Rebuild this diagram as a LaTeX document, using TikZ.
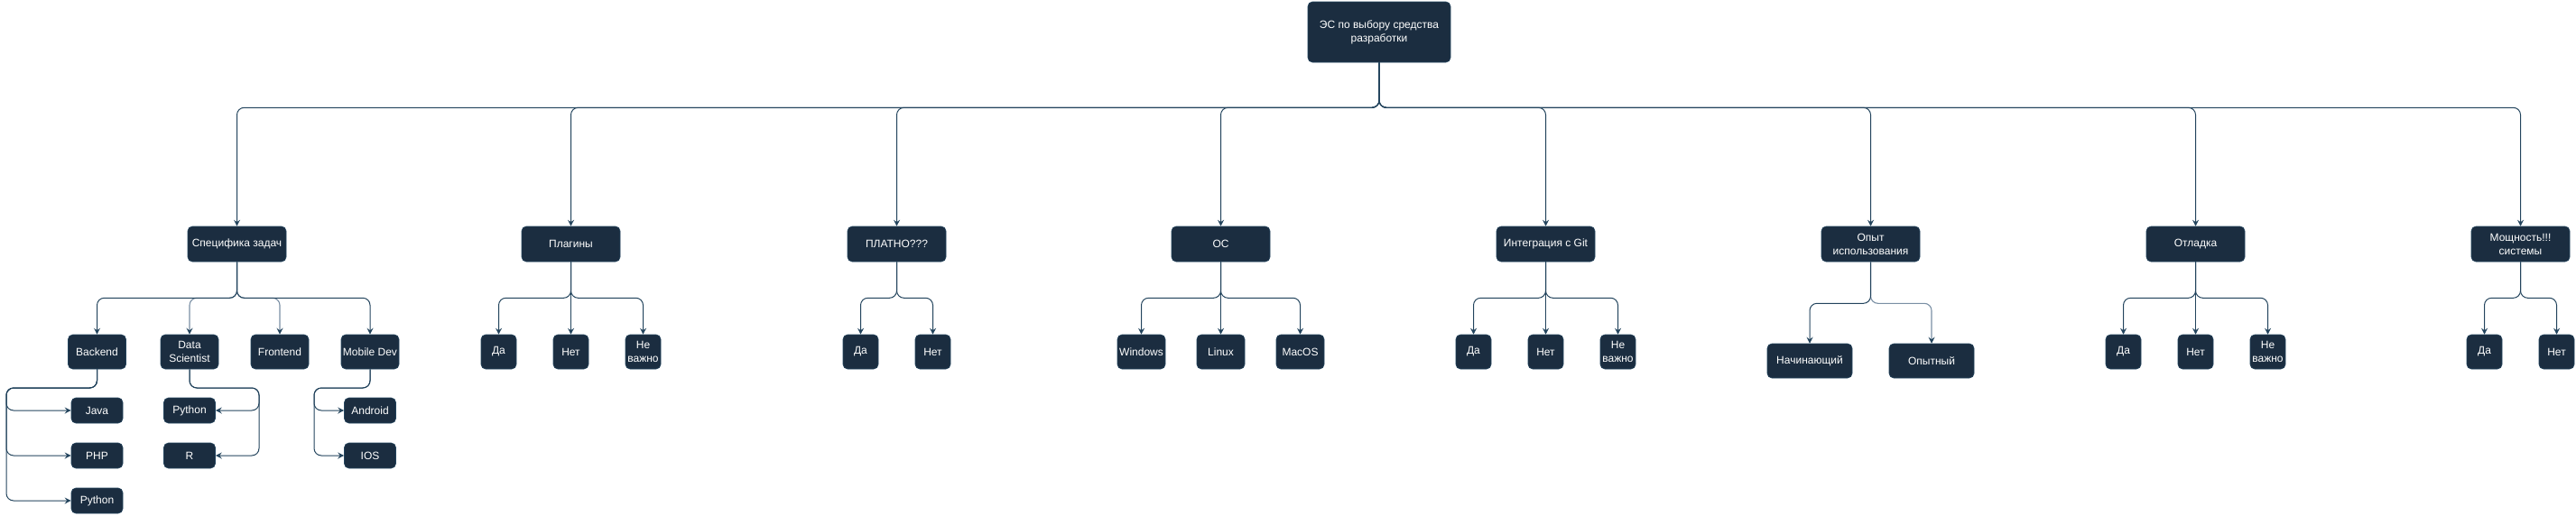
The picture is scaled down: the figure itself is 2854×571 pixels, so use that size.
\documentclass[tikz,border=0pt]{standalone}
\usepackage{fontspec}
\setmainfont{Liberation Sans}
\usetikzlibrary{arrows.meta}
\definecolor{boxfill}{HTML}{1B2D40}
\definecolor{edgecol}{HTML}{23445D}
\definecolor{edgelight}{HTML}{7A8FA4}
\tikzset{
  box/.style={draw=edgecol, fill=boxfill, rounded corners=5pt, text=white, align=center,
    inner sep=0pt, font=\fontsize{12}{15}\selectfont, line width=0.6pt},
  rootbox/.style={box, minimum width=158pt, minimum height=67pt},
  lvla/.style={box, minimum width=109pt, minimum height=39pt},
  lvlb/.style={box, minimum width=64pt, minimum height=38pt},
  small/.style={box, minimum width=39pt, minimum height=38pt},
  osbox/.style={box, minimum width=53pt, minimum height=38pt},
  expbox/.style={box, minimum width=94pt, minimum height=38pt},
  leaf/.style={box, minimum width=57pt, minimum height=28pt},
  conn/.style={draw=edgecol, line width=1pt, rounded corners=8pt, -{Stealth[length=7pt,width=7pt,inset=2.5pt]}},
  connlight/.style={draw=edgelight, line width=1.1pt, rounded corners=8pt, -{Stealth[length=7pt,width=7pt,inset=2.5pt,color=edgecol]}},
}
\begin{document}
\begin{tikzpicture}[x=1pt,y=-1pt]
\useasboundingbox (0,0) rectangle (2854,571);
% root
\node[rootbox] (root) at (1528,35.5) {ЭС по выбору средства\\разработки};
% level 1
\node[lvla] (spec) at (262.5,270.5) {Специфика задач};
\node[lvla] (plug) at (632.5,270.5) {Плагины};
\node[lvla] (paid) at (993.5,270.5) {ПЛАТНО???};
\node[lvla] (os)   at (1352.5,270.5) {ОС};
\node[lvla] (git)  at (1712.5,270.5) {Интеграция с Git};
\node[lvla] (exp)  at (2072.5,270.5) {Опыт\\использования};
\node[lvla] (dbg)  at (2432.5,270.5) {Отладка};
\node[lvla] (pow)  at (2792.5,270.5) {Мощность!!!\\системы};
% level 2
\node[lvlb] (backend) at (107.5,390) {Backend};
\node[lvlb] (ds)      at (210,390) {Data\\Scientist};
\node[lvlb] (fe)      at (310,390) {Frontend};
\node[lvlb] (mob)     at (410,390) {Mobile Dev};
\node[small] (plugy) at (552.5,390) {Да};
\node[small] (plugn) at (632.5,390) {Нет};
\node[small] (plugm) at (712.5,390) {Не\\важно};
\node[small] (paidy) at (953.5,390) {Да};
\node[small] (paidn) at (1033.5,390) {Нет};
\node[osbox] (win) at (1264.5,390) {Windows};
\node[osbox] (lin) at (1352.5,390) {Linux};
\node[osbox] (mac) at (1440.5,390) {MacOS};
\node[small] (gity) at (1632.5,390) {Да};
\node[small] (gitn) at (1712.5,390) {Нет};
\node[small] (gitm) at (1792.5,390) {Не\\важно};
\node[expbox] (beg) at (2005,400) {Начинающий};
\node[expbox] (pro) at (2140,400) {Опытный};
\node[small] (dbgy) at (2352.5,390) {Да};
\node[small] (dbgn) at (2432.5,390) {Нет};
\node[small] (dbgm) at (2512.5,390) {Не\\важно};
\node[small] (powy) at (2752.5,390) {Да};
\node[small] (pown) at (2832.5,390) {Нет};
% level 3
\node[leaf] (java) at (107.5,455) {Java};
\node[leaf] (php)  at (107.5,505) {PHP};
\node[leaf] (pya)  at (107.5,555) {Python};
\node[leaf] (pyb)  at (210,455) {Python};
\node[leaf] (rr)   at (210,505) {R};
\node[leaf] (andr) at (410,455) {Android};
\node[leaf] (ios)  at (410,505) {IOS};
% light edges first
\draw[connlight] (spec.south) -- ++(0,40) -| (ds.north);
\draw[connlight] (spec.south) -- ++(0,40) -| (fe.north);
\draw[connlight] (exp.south) -- ++(0,46) -| (pro.north);
% root edges
\foreach \c in {spec,plug,paid,os,git,exp,dbg,pow}
  \draw[conn] (root.south) -- ++(0,50) -| (\c.north);
% specifics
\draw[conn] (spec.south) -- ++(0,40) -| (backend.north);
\draw[conn] (spec.south) -- ++(0,40) -| (mob.north);
% groups with a centre child
\foreach \p/\a/\b/\m in {plug/plugy/plugm/plugn, os/win/mac/lin, git/gity/gitm/gitn, dbg/dbgy/dbgm/dbgn}{
  \draw[conn] (\p.south) -- ++(0,40) -| (\a.north);
  \draw[conn] (\p.south) -- ++(0,40) -| (\b.north);
  \draw[conn] (\p.south) -- (\m.north);
}
\foreach \p/\a/\b in {paid/paidy/paidn, pow/powy/pown}{
  \draw[conn] (\p.south) -- ++(0,40) -| (\a.north);
  \draw[conn] (\p.south) -- ++(0,40) -| (\b.north);
}
\draw[conn] (exp.south) -- ++(0,46) -| (beg.north);
% level 3
\coordinate (bk) at (7,430);
\coordinate (dk) at (287,430);
\coordinate (mk) at (348,430);
\draw[conn] (backend.south) |- (bk) |- (java.west);
\draw[conn] (backend.south) |- (bk) |- (php.west);
\draw[conn] (backend.south) |- (bk) |- (pya.west);
\draw[conn] (ds.south) |- (dk) |- (pyb.east);
\draw[conn] (ds.south) |- (dk) |- (rr.east);
\draw[conn] (mob.south) |- (mk) |- (andr.west);
\draw[conn] (mob.south) |- (mk) |- (ios.west);
\end{tikzpicture}
\end{document}
